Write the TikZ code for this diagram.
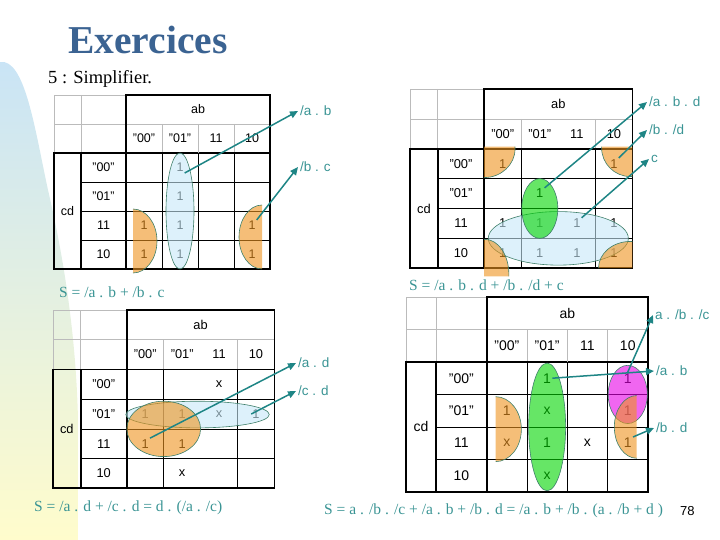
\documentclass[tikz,border=0pt]{standalone}
\usepackage{fontspec}
\setmainfont{Liberation Serif}
\setsansfont{Liberation Sans}
\usetikzlibrary{arrows.meta}

\definecolor{titleblue}{HTML}{3B6392}
\definecolor{arrowteal}{HTML}{1E8585}
\definecolor{textteal}{HTML}{3A9494}
\definecolor{ringgreen}{HTML}{3E7F6A}
\definecolor{gridgray}{HTML}{BBBBBB}
\definecolor{fillblue}{HTML}{C6E8F8}
\definecolor{fillorange}{HTML}{EE931E}
\definecolor{fillgreen}{HTML}{00D500}
\definecolor{fillmagenta}{HTML}{E600E6}
\definecolor{bgtop}{HTML}{C9E4F6}
\definecolor{bgmid}{HTML}{E6F2DE}
\definecolor{bgbot}{HTML}{FFFCCC}

\begin{document}
\begin{tikzpicture}[
		x=1pt, y=-1pt, % slide pixels, y downwards
		hline/.style={draw=gridgray, line width=0.7pt},
		gline/.style={draw=black, line width=0.7pt},
		frame/.style={draw=black, line width=1.8pt, line cap=rect},
		cell/.style={font=\sffamily\fontsize{12.5}{14}\selectfont, inner sep=1pt},
		entry/.style={cell},
		region/.style={draw=ringgreen, line width=0.6pt, fill opacity=0.6},
		arrow/.style={-{Triangle[length=8pt, width=7pt]}, draw=arrowteal, line width=1.5pt},
		lab/.style={anchor=west, text=textteal, font=\sffamily\fontsize{13.5}{15}\selectfont, inner sep=2pt},
		eq/.style={anchor=west, text=textteal, font=\fontsize{15.5}{17}\selectfont, inner sep=0pt},
		kmap/.pic={
			% header cells
			\draw[hline] (0,0) -- (72,0) (0,0) -- (0,58) (27,0) -- (27,58) (0,29) -- (216,29);
			\foreach \x in {108,180} \draw[hline] (\x,29) -- (\x,58);
			% inner grid
			\foreach \x in {108,180} \draw[gline] (\x,58) -- (\x,174);
			\foreach \y in {87,116,145} \draw[gline] (27,\y) -- (216,\y);
			% thick frame
			\draw[frame] (72,0) -- (216,0) -- (216,174) -- (0,174) -- (0,58) -- (216,58);
			\draw[frame] (72,0) -- (72,174) (27,58) -- (27,174);
			% variables
			\node[cell] (-ab) at (144,14.5) {ab};
			\node[cell] (-cd) at (13.5,116) {cd};
			\foreach \t [count=\i] in {”00”,”01”,11,10} {
				\node[cell] (-c\i) at ({54+36*\i},43.5) {\t};
				\node[cell] (-r\i) at (49.5,{43.5+29*\i}) {\t};
			}
		}
		]
	
	\useasboundingbox (0,0) rectangle (720,540);
	
	% Background
	\shade[top color=bgtop, middle color=bgmid, bottom color=bgbot]
		(0,62) .. controls (25,58) and (35,130) .. (48,190)
		.. controls (62,250) and (76,330) .. (78,420) -- (78,540) -- (0,540) -- cycle;
	
	% Title
	\node[font=\bfseries\fontsize{39.5}{44}\selectfont, text=titleblue, anchor=base] (title) at (148,54) {Exercices};
	\node[font=\fontsize{18.5}{20}\selectfont, anchor=base west, inner sep=0pt] (task) at (48,84) {5 : Simplifier.};
	
	% Map 1
	\begin{scope}[shift={(54,95)}]
		\pic (k1) {kmap};
		\draw[hline] (144,29) -- (144,58);
		\draw[gline] (144,58) -- (144,174);
		\foreach \c/\r in {2/1,2/2,2/3,2/4,1/3,1/4,4/3,4/4}
			\node[entry] (k1-\c\r) at ({54+36*\c},{43.5+29*\r}) {1};
		\filldraw[region, fill=fillblue] (126,116) ellipse[x radius=14, y radius=58];
		\filldraw[region, fill=fillorange] (79,114) arc[start angle=-90, end angle=90, x radius=24, y radius=32];
		\filldraw[region, fill=fillorange] (208,110) arc[start angle=270, end angle=90, x radius=23, y radius=32];
	\end{scope}
	
	% Map 2
	\begin{scope}[shift={(410,89)}, scale=1.03, transform shape]
		\pic (k2) {kmap};
		\foreach \c/\r in {1/1,4/1,2/2,1/3,2/3,3/3,4/3,1/4,2/4,3/4,4/4}
			\node[entry] (k2-\c\r) at ({54+36*\c},{43.5+29*\r}) {1};
		\filldraw[region, fill=fillblue] (144,145) ellipse[x radius=68, y radius=26];
		\filldraw[region, fill=fillgreen] (126,116) ellipse[x radius=17.5, y radius=29];
		\begin{scope}
			\clip (72,56) -- (216,56) -- (216,174) -- (100,174) -- (100,182) -- (72,182) -- cycle;
			\filldraw[region, fill=fillorange] (72,58) ellipse[x radius=30, y radius=28];
			\filldraw[region, fill=fillorange] (214,57) ellipse[x radius=28, y radius=28];
			\filldraw[region, fill=fillorange] (73,180) ellipse[x radius=23, y radius=34];
			\filldraw[region, fill=fillorange] (214,174) ellipse[x radius=31, y radius=26];
		\end{scope}
	\end{scope}
	
	% Map 3
	\begin{scope}[shift={(53,310)}, scale=1.025, transform shape]
		\pic (k3) {kmap};
		\foreach \c/\r/\t in {3/1/x,1/2/1,2/2/1,3/2/x,4/2/1,1/3/1,2/3/1,2/4/x}
			\node[entry] (k3-\c\r) at ({54+36*\c},{43.5+29*\r}) {\t};
		\filldraw[region, fill=fillblue] (141,102) ellipse[x radius=70, y radius=13];
		\filldraw[region, fill=fillorange] (108,116) ellipse[x radius=36, y radius=27];
	\end{scope}
	
	% Map 4
	\begin{scope}[shift={(406,297)}, scale=1.12, transform shape]
		\pic (k4) {kmap};
		\draw[hline] (144,29) -- (144,58);
		\draw[gline] (144,58) -- (144,174);
		\foreach \c/\r/\t in {2/1/1,4/1/1,1/2/1,2/2/x,4/2/1,1/3/x,2/3/1,3/3/x,4/3/1,2/4/x}
			\node[entry] (k4-\c\r) at ({54+36*\c},{43.5+29*\r}) {\t};
		\filldraw[region, fill=fillgreen] (126,116) ellipse[x radius=16.5, y radius=57];
		\filldraw[region, fill=fillmagenta] (198,87) ellipse[x radius=17.5, y radius=26];
		\filldraw[region, fill=fillorange] (206,88) arc[start angle=270, end angle=90, x radius=20, y radius=28];
		\filldraw[region, fill=fillorange] (80,89) arc[start angle=-90, end angle=90, x radius=23, y radius=29];
	\end{scope}
	
	% Terms
	\node[lab] (l1a) at (298,111) {/a . b};
	\node[lab] (l1b) at (298,167) {/b . c};
	\node[lab] (l2a) at (647,102) {/a . b . d};
	\node[lab] (l2b) at (647,130) {/b . /d};
	\node[lab] (l2c) at (649,159) {c};
	\node[lab] (l3a) at (296,363) {/a . d};
	\node[lab] (l3b) at (296,391) {/c . d};
	\node[lab] (l4a) at (653,315) {a . /b . /c};
	\node[lab] (l4b) at (654,371) {/a . b};
	\node[lab] (l4c) at (654,428) {/b . d};
	
	% Arrows
	\draw[arrow] (k1-21.south east) -- (l1a.west);
	\draw[arrow] (k1-43.north east) -- (l1b.west);
	\draw[arrow] (k2-22.north east) -- (l2a.west);
	\draw[arrow] (k2-41.north east) -- (l2b.west);
	\draw[arrow] (k2-33.north east) -- (l2c.west);
	\draw[arrow] (k3-13.north east) -- (l3a.west);
	\draw[arrow] (k3-42.west) -- (l3b.west);
	\draw[arrow] (k4-41.north) -- (l4a.west);
	\draw[arrow] (k4-21.east) -- (l4b.west);
	\draw[arrow] (k4-43.north east) -- (l4c.west);
	
	% Results
	\node[eq] (s1) at (59,292) {S = /a . b + /b . c};
	\node[eq] (s2) at (409,285) {S = /a . b . d + /b . /d + c};
	\node[eq] (s3) at (34,508) {S = /a . d + /c . d = d . (/a . /c)};
	\node[eq] (s4) at (324,511) {S = a . /b . /c + /a . b + /b . d = /a . b + /b . (a . /b + d )};
	\node[font=\sffamily\fontsize{13}{15}\selectfont, anchor=west, inner sep=0pt] (page) at (680,511) {78};
	
\end{tikzpicture}
\end{document}
